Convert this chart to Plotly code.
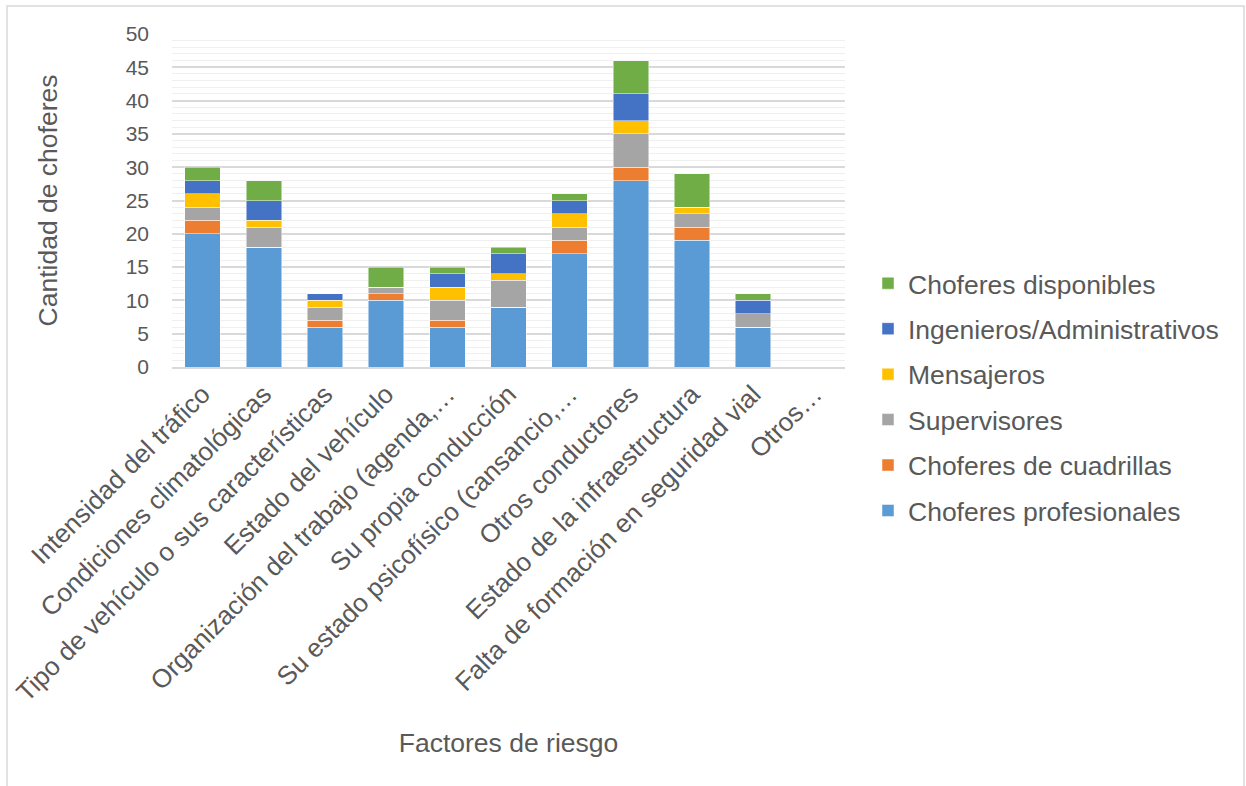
import plotly.graph_objects as go

categories = [
    "Intensidad del tráfico",
    "Condiciones climatológicas",
    "Tipo de vehículo o sus características",
    "Estado del vehículo",
    "Organización del trabajo (agenda,…",
    "Su propia conducción",
    "Su estado psicofísico (cansancio,…",
    "Otros conductores",
    "Estado de la infraestructura",
    "Falta de formación en seguridad vial",
    "Otros…",
]

choferes_profesionales = [20, 18, 6, 10, 6, 9, 17, 28, 19, 6, 0]
choferes_cuadrillas = [2, 0, 1, 1, 1, 0, 2, 2, 2, 0, 0]
supervisores = [2, 3, 2, 1, 3, 4, 2, 5, 2, 2, 0]
mensajeros = [2, 1, 1, 0, 2, 1, 2, 2, 1, 0, 0]
ingenieros_admin = [2, 3, 1, 0, 2, 3, 2, 4, 0, 2, 0]
choferes_disponibles = [2, 3, 0, 3, 1, 1, 1, 5, 5, 1, 0]

series = [
    ("Choferes profesionales", choferes_profesionales, "#5B9BD5"),
    ("Choferes de cuadrillas", choferes_cuadrillas, "#ED7D31"),
    ("Supervisores", supervisores, "#A5A5A5"),
    ("Mensajeros", mensajeros, "#FFC000"),
    ("Ingenieros/Administrativos", ingenieros_admin, "#4472C4"),
    ("Choferes disponibles", choferes_disponibles, "#70AD47"),
]

FONT = "Liberation Sans, Arial, sans-serif"
TXT = "#595959"

fig = go.Figure()
for i, (name, vals, color) in enumerate(series):
    fig.add_trace(go.Bar(
        x=categories, y=vals, name=name,
        marker=dict(color=color, line=dict(color="rgba(255,255,255,0.6)", width=0.8)),
        legendgroup=f"g{i}",
        legendrank=1000 - i,
    ))

W, H = 1246, 786
L, R, T, B = 172, 845, 34, 367

fig.update_layout(
    width=W, height=H,
    barmode="stack",
    bargap=0.42,
    plot_bgcolor="white", paper_bgcolor="white",
    margin=dict(l=L, r=W - R, t=T, b=H - B, autoexpand=False),
    font=dict(family=FONT, color=TXT),
    showlegend=True,
    legend=dict(
        x=(868 - L) / (R - L), xanchor="left",
        y=(B - 397) / (B - T), yanchor="middle",
        traceorder="grouped",
        tracegroupgap=8,
        font=dict(size=26.5, color=TXT, family=FONT),
        itemwidth=30,
        bgcolor="rgba(0,0,0,0)",
    ),
    xaxis=dict(
        tickangle=-45,
        tickfont=dict(size=26, color=TXT, family=FONT),
        showgrid=False,
        showline=True, linecolor="#D9D9D9", linewidth=1.5,
        ticks="",
        title=dict(text="Factores de riesgo", font=dict(size=26.5, color=TXT, family=FONT), standoff=27),
        automargin=False,
    ),
    yaxis=dict(
        range=[0, 50],
        dtick=5,
        tickfont=dict(size=21, color=TXT, family=FONT),
        ticklabelstandoff=22,
        showgrid=True, gridcolor="#D9D9D9", gridwidth=1.5,
        minor=dict(dtick=1, showgrid=True, gridcolor="#EFEFEF", gridwidth=1),
        zeroline=False,
        showline=False,
        ticks="",
        title=dict(text="Cantidad de choferes", font=dict(size=26.5, color=TXT, family=FONT), standoff=60),
        automargin=False,
    ),
    shapes=[dict(
        type="rect", xref="paper", yref="paper",
        x0=(7 - L) / (R - L), x1=(1244 - L) / (R - L),
        y0=(B - 800) / (B - T), y1=(B - 6) / (B - T),
        line=dict(color="#D9D9D9", width=1.5),
        fillcolor="rgba(0,0,0,0)", layer="below",
    )],
)

fig.write_html("out.html")
